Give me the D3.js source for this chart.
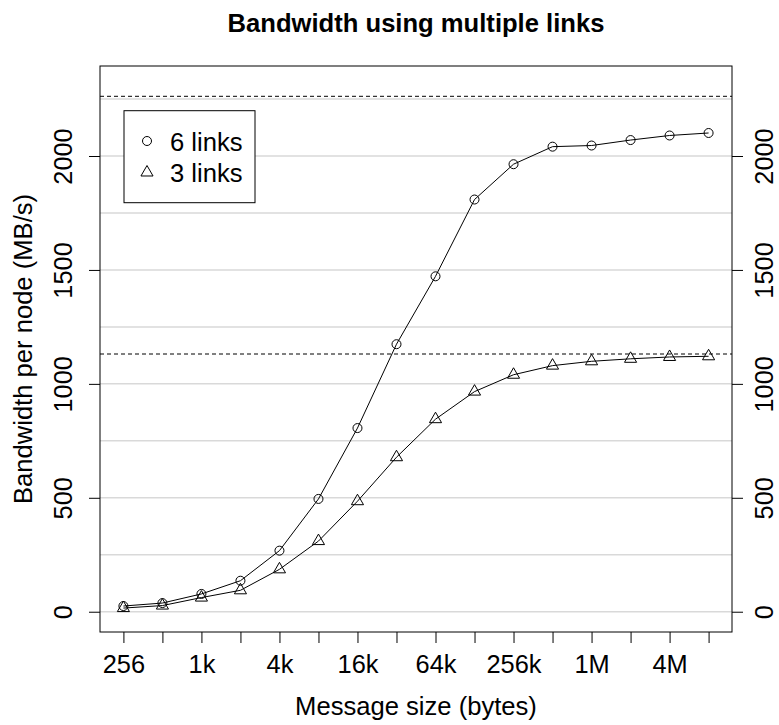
<!DOCTYPE html>
<html>
<head>
<meta charset="utf-8">
<script src="https://cdn.jsdelivr.net/npm/d3@7"></script>
<style>
  html, body { margin: 0; padding: 0; background: #fff; }
  svg { display: block; font-family: "Liberation Sans", Arial, Helvetica, sans-serif; }
</style>
</head>
<body>
<svg id="chart" width="779" height="725"></svg>
<script>
// Message sizes in bytes (powers of two from 256 B to 8 MB)
const sizes = [256, 512, 1024, 2048, 4096, 8192, 16384, 32768, 65536, 131072,
               262144, 524288, 1048576, 2097152, 4194304, 8388608];
// Tick labels for the x axis (every other tick carries a label)
const sizeLabels = ["256", "", "1k", "", "4k", "", "16k", "", "64k", "", "256k", "", "1M", "", "4M", ""];
// Bandwidth per node (MB/s)
const sixLinks   = [25, 38, 78, 136, 268, 495, 806, 1174, 1472, 1809, 1964, 2041, 2046, 2070, 2090, 2101];
const threeLinks = [16, 27, 62, 94, 186, 310, 485, 678, 845, 966, 1040, 1080, 1099, 1110, 1118, 1121];
// Peak bandwidth reference levels
const peaks = [1131, 2262];
// Y ticks and grid levels
const yTicks = [0, 500, 1000, 1500, 2000];
const gridLevels = d3.range(0, 2251, 250);

const seriesNames = ["6 links", "3 links"];

const svg = d3.select("#chart");
const plotLeft = 100, plotRight = 732, plotTop = 66, plotBottom = 632;

const x = d3.scaleLog().base(2)
  .domain([Math.pow(2, 7.4), Math.pow(2, 23.6)])
  .range([plotLeft, plotRight]);
const y = d3.scaleLinear()
  .domain([-89, 2395])
  .range([plotBottom, plotTop]);

const FS = 25.4;

// Grid lines
svg.append("g").selectAll("line").data(gridLevels).join("line")
  .attr("x1", plotLeft).attr("x2", plotRight)
  .attr("y1", d => y(d)).attr("y2", d => y(d))
  .attr("stroke", "#d9d9d9").attr("stroke-width", 1.5);

// Peak reference lines
svg.append("g").selectAll("line").data(peaks).join("line")
  .attr("x1", plotLeft).attr("x2", plotRight)
  .attr("y1", d => y(d)).attr("y2", d => y(d))
  .attr("stroke", "#000").attr("stroke-width", 1)
  .attr("stroke-dasharray", "4,3");

// Series lines
const line = d3.line().x(d => x(d[0])).y(d => y(d[1]));
[sixLinks, threeLinks].forEach(vals => {
  svg.append("path")
    .datum(sizes.map((s, i) => [s, vals[i]]))
    .attr("d", line)
    .attr("fill", "none").attr("stroke", "#000").attr("stroke-width", 1);
});

// Point symbols
const cs = 12;
const circR = 0.375 * cs;
function triPath(cx, cy) {
  const hw = 0.505 * cs, up = 0.583 * cs, dn = 0.2916 * cs;
  return `M${cx},${cy - up}L${cx + hw},${cy + dn}L${cx - hw},${cy + dn}Z`;
}
svg.append("g").selectAll("circle").data(sizes.map((s, i) => [s, sixLinks[i]])).join("circle")
  .attr("cx", d => x(d[0])).attr("cy", d => y(d[1])).attr("r", circR)
  .attr("fill", "none").attr("stroke", "#000").attr("stroke-width", 1);
svg.append("g").selectAll("path").data(sizes.map((s, i) => [s, threeLinks[i]])).join("path")
  .attr("d", d => triPath(x(d[0]), y(d[1])))
  .attr("fill", "none").attr("stroke", "#000").attr("stroke-width", 1);

// Bottom axis
const xAxis = svg.append("g").attr("transform", `translate(0,${plotBottom})`)
  .call(d3.axisBottom(x).tickValues(sizes)
    .tickFormat((d, i) => sizeLabels[i]).tickSize(11).tickSizeOuter(0));
xAxis.select(".domain").remove();
xAxis.selectAll("text").attr("y", 40.7).attr("dy", null)
  .attr("font-size", FS).attr("font-family", null).attr("fill", "#000");

// Left axis
const yAxisL = svg.append("g").attr("transform", `translate(${plotLeft},0)`)
  .call(d3.axisLeft(y).tickValues(yTicks).tickFormat(d3.format("d"))
    .tickSize(11).tickSizeOuter(0));
yAxisL.select(".domain").remove();
yAxisL.selectAll("text").attr("transform", "rotate(-90)")
  .attr("x", 0).attr("y", -28).attr("dy", null)
  .attr("text-anchor", "middle")
  .attr("font-size", FS).attr("font-family", null).attr("fill", "#000");

// Right axis
const yAxisR = svg.append("g").attr("transform", `translate(${plotRight},0)`)
  .call(d3.axisRight(y).tickValues(yTicks).tickFormat(d3.format("d"))
    .tickSize(11).tickSizeOuter(0));
yAxisR.select(".domain").remove();
yAxisR.selectAll("text").attr("transform", "rotate(-90)")
  .attr("x", 0).attr("y", 41).attr("dy", null)
  .attr("text-anchor", "middle")
  .attr("font-size", FS).attr("font-family", null).attr("fill", "#000");

svg.selectAll(".tick line").attr("stroke", "#000");

// Plot frame
svg.append("rect").attr("x", plotLeft).attr("y", plotTop)
  .attr("width", plotRight - plotLeft).attr("height", plotBottom - plotTop)
  .attr("fill", "none").attr("stroke", "#000").attr("stroke-width", 1);

// Title and axis titles
svg.append("text").attr("x", (plotLeft + plotRight) / 2).attr("y", 32)
  .attr("text-anchor", "middle").attr("font-weight", "bold").attr("font-size", 25.6)
  .text("Bandwidth using multiple links");
svg.append("text").attr("x", (plotLeft + plotRight) / 2).attr("y", 715)
  .attr("text-anchor", "middle").attr("font-size", 25.6)
  .text("Message size (bytes)");
svg.append("text")
  .attr("transform", `translate(32,${(plotTop + plotBottom) / 2}) rotate(-90)`)
  .attr("text-anchor", "middle").attr("font-size", 25.6)
  .text("Bandwidth per node (MB/s)");

// Legend
const lg = svg.append("g");
lg.append("rect").attr("x", 124).attr("y", 110.7).attr("width", 131).attr("height", 92)
  .attr("fill", "#fff").attr("stroke", "#000").attr("stroke-width", 1);
const rowY = [141, 172.5];
lg.append("circle").attr("cx", 147).attr("cy", rowY[0]).attr("r", circR)
  .attr("fill", "none").attr("stroke", "#000");
lg.append("path").attr("d", triPath(147, rowY[1]))
  .attr("fill", "none").attr("stroke", "#000");
lg.selectAll("text").data(seriesNames).join("text")
  .attr("x", 170).attr("y", (d, i) => rowY[i] + 9.5)
  .attr("font-size", 25.6).text(d => d);
</script>
</body>
</html>
